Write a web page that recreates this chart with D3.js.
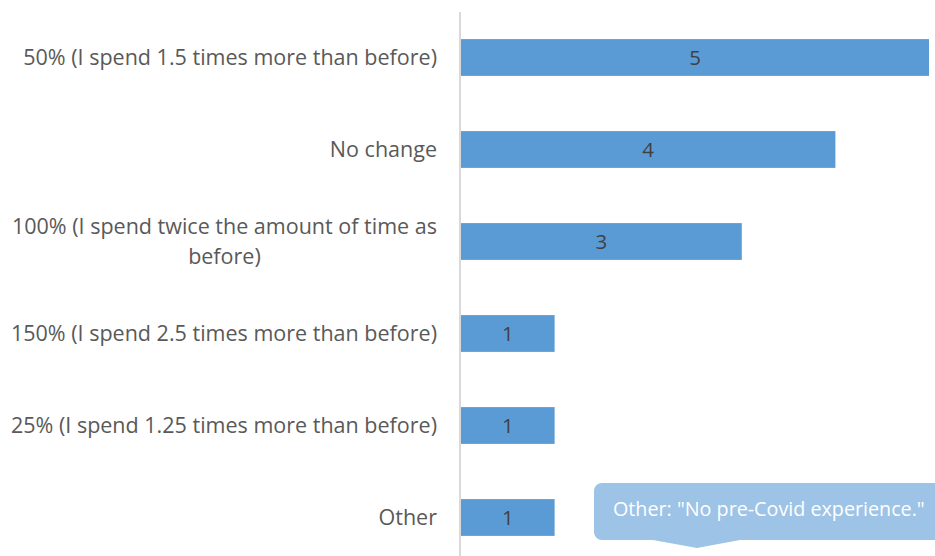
<!DOCTYPE html>
<html><head><meta charset="utf-8">
<script src="https://cdn.jsdelivr.net/npm/d3@7"></script>
<style>body{margin:0;background:#fff;}svg{display:block;}</style>
</head><body>
<svg id="chart" width="935" height="556"></svg>
<script>
const categories = [
  "50% (I spend 1.5 times more than before)",
  "No change",
  "100% (I spend twice the amount of time as before)",
  "150% (I spend 2.5 times more than before)",
  "25% (I spend 1.25 times more than before)",
  "Other"
];
const values = [5, 4, 3, 1, 1, 1];
const calloutText = "Other: \"No pre-Covid experience.\"";

const svg = d3.select("#chart");
const font = "'Open Sans', sans-serif";
const x = d3.scaleLinear().domain([0, 5]).range([461, 929]);
const y = d3.scaleBand().domain(categories).range([11.5, 563.5]).paddingInner(0.6).paddingOuter(0.3);

// fit font size so the first label is ~414px wide (as in reference)
function fitSize(text, target, base) {
  const t = svg.append("text").attr("font-family", font).attr("font-size", base).text(text);
  const w = t.node().getComputedTextLength();
  t.remove();
  return base * target / w;
}
const labelSize = fitSize(categories[0], 414, 20);
const calloutSize = fitSize(calloutText, 312, 19);

// bars
svg.selectAll("rect.bar").data(categories).join("rect")
  .attr("class", "bar")
  .attr("x", x(0))
  .attr("y", d => y(d))
  .attr("width", (d, i) => x(values[i]) - x(0))
  .attr("height", y.bandwidth())
  .attr("fill", "#5b9bd5");

// value labels
svg.selectAll("text.val").data(categories).join("text")
  .attr("class", "val")
  .attr("x", (d, i) => (x(0) + x(values[i])) / 2)
  .attr("y", d => y(d) + y.bandwidth() / 2)
  .attr("dy", "0.35em")
  .attr("text-anchor", "middle")
  .attr("font-family", font)
  .attr("font-size", labelSize * 0.95)
  .attr("fill", "#404040")
  .text((d, i) => values[i]);

// axis line
svg.append("line")
  .attr("x1", 460).attr("x2", 460)
  .attr("y1", 12).attr("y2", 556)
  .attr("stroke", "#d9d9d9").attr("stroke-width", 2);

// category labels with wrapping
const maxW = 432;
const labels = svg.selectAll("text.cat").data(categories).join("text")
  .attr("class", "cat")
  .attr("font-family", font)
  .attr("font-size", labelSize)
  .attr("fill", "#595959");
labels.each(function(d) {
  const t = d3.select(this);
  const words = d.split(" ");
  const lines = [];
  let line = [];
  const probe = t.append("tspan");
  words.forEach(w => {
    line.push(w);
    probe.text(line.join(" "));
    if (probe.node().getComputedTextLength() > maxW && line.length > 1) {
      line.pop();
      lines.push(line.join(" "));
      line = [w];
    }
  });
  lines.push(line.join(" "));
  probe.remove();
  const lh = 30;
  const cy = y(d) + y.bandwidth() / 2;
  const startY = cy - (lines.length - 1) * lh / 2;
  let widest = 0;
  const tsp = lines.map((l, k) => {
    const s = t.append("tspan").attr("y", startY + k * lh).attr("dy", "0.35em").text(l);
    widest = Math.max(widest, s.node().getComputedTextLength());
    return s;
  });
  t.attr("text-anchor", "middle");
  tsp.forEach(s => s.attr("x", 437 - widest / 2));
});

// callout
const cy0 = 483, cy1 = 540, cx0 = 594, cx1 = 945, r = 8;
const tipX = 697, tipY = 548;
const path = d3.path();
path.moveTo(cx0 + r, cy0);
path.lineTo(cx1, cy0);
path.lineTo(cx1, cy1);
path.lineTo(740, cy1);
path.lineTo(tipX, tipY);
path.lineTo(653, cy1);
path.lineTo(cx0 + r, cy1);
path.arcTo(cx0, cy1, cx0, cy1 - r, r);
path.lineTo(cx0, cy0 + r);
path.arcTo(cx0, cy0, cx0 + r, cy0, r);
path.closePath();
svg.append("path").attr("d", path.toString()).attr("fill", "#9dc3e6");
svg.append("text")
  .attr("x", 613).attr("y", (cy0 + cy1) / 2 - 2)
  .attr("dy", "0.35em")
  .attr("font-family", font)
  .attr("font-size", calloutSize)
  .attr("fill", "#ffffff")
  .text(calloutText);
</script>
</body></html>
